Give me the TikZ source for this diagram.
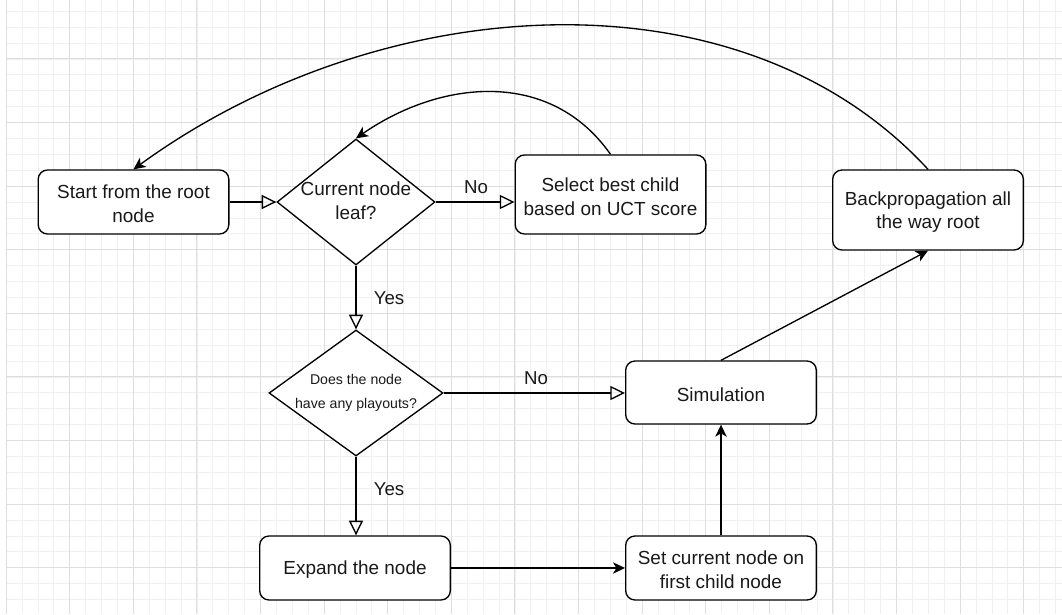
\documentclass[tikz,border=0pt]{standalone}
\usepackage{fontspec}
\setmainfont{Liberation Sans}
\usetikzlibrary{arrows.meta,shapes.geometric}
\begin{document}
\begin{tikzpicture}[x=0.75pt,y=-0.75pt,
  minorgrid/.style={draw=black!6,line width=0.6pt},
  majorgrid/.style={draw=black!13,line width=0.7pt},
  box/.style={draw,line width=1pt,rounded corners=7pt,fill=white,minimum width=143pt,inner sep=0pt},
  dia/.style={draw,line width=1pt,diamond,fill=white,inner sep=0pt},
  txt/.style={align=center,font=\fontsize{14.2}{17.8}\selectfont,text=black!90,yshift=-1.5pt},
  smalltxt/.style={align=center,font=\fontsize{10.6}{18}\selectfont,text=black!90},
  lbl/.style={font=\fontsize{14}{16}\selectfont,text=black!90},
  openarr/.style={line width=1pt,-{Triangle[open,length=11pt,width=10.5pt]}},
  fillarr/.style={line width=1pt,-{Stealth[length=9pt,width=8.5pt,inset=2.5pt]}}]
\useasboundingbox (0,0) rectangle (1062,614);
\fill[white] (0,0) rectangle (1062,614);
% grid
\foreach \i in {0,...,66} {\pgfmathsetmacro\xx{6.1+15.9*\i}\draw[minorgrid] (\xx,0) -- (\xx,614);}
\foreach \j in {1,...,39} {\pgfmathsetmacro\yy{-4.7+15.9*\j}\draw[minorgrid] (6.1,\yy) -- (1062,\yy);}
\foreach \i in {0,...,16} {\pgfmathsetmacro\xx{6.1+63.6*\i}\draw[majorgrid] (\xx,0) -- (\xx,614);}
\foreach \j in {1,...,9} {\pgfmathsetmacro\yy{-4.7+63.6*\j}\draw[majorgrid] (6.1,\yy) -- (1062,\yy);}
% nodes
\node[box,minimum height=48pt] (start) at (133.5,202) {};
\node[txt] (starttxt) at (start) {Start from the root\\node};
\node[dia,minimum width=118.5pt,minimum height=94.5pt] (d1) at (356,202) {};
\node[txt] (d1txt) at (356,199) {Current node\\leaf?};
\node[box,minimum height=59.25pt] (sel) at (610.5,194.5) {};
\node[txt] (seltxt) at (sel) {Select best child\\based on UCT score};
\node[box,minimum height=60pt] (back) at (928,210) {};
\node[txt] (backtxt) at (back) {Backpropagation all\\the way root};
\node[dia,minimum width=130.5pt,minimum height=94.5pt] (d2) at (356,393) {};
\node[smalltxt] (d2txt) at (356,393) {Does the node\\have any playouts?};
\node[box,minimum height=47.25pt] (sim) at (721,392.5) {};
\node[txt] (simtxt) at (sim) {Simulation};
\node[box,minimum height=48pt] (exp) at (355,568) {};
\node[txt] (exptxt) at (exp) {Expand the node};
\node[box,minimum height=48pt] (set) at (721,568) {};
\node[txt] (settxt) at (set) {Set current node on\\first child node};
% labels
\node[lbl] (no1) at (476,187) {No};
\node[lbl] (yes1) at (389,298) {Yes};
\node[lbl] (no2) at (536,378) {No};
\node[lbl] (yes2) at (389,489) {Yes};
% connectors
\draw[openarr] (start.east) -- (d1.west);
\draw[openarr] (d1.east) -- (d1.east -| sel.west);
\draw[openarr] (d1.south) -- (d2.north);
\draw[openarr] (d2.east) -- (d2.east -| sim.west);
\draw[openarr] (d2.south) -- (d2.south |- exp.north);
\draw[fillarr] (exp.east) -- (set.west);
\draw[fillarr] (set.north) -- (sim.south);
\draw[fillarr] (sim.north) -- (back.south);
\draw[fillarr] (sel.north) .. controls (550,68) and (440,80) .. (d1.north);
\draw[fillarr] (back.north) .. controls (740,-35) and (380,-10) .. (start.north);
\end{tikzpicture}
\end{document}
